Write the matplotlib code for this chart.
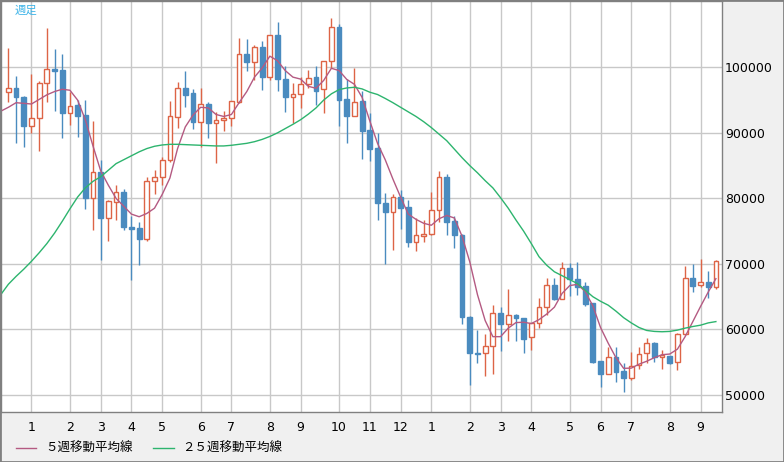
import matplotlib
matplotlib.use('Agg')
import matplotlib.pyplot as plt
import numpy as np
from matplotlib.lines import Line2D
from matplotlib.patches import Rectangle

# weekly candles
opens = [96190, 96800, 95530, 91110, 92230, 97560, 99700, 99590, 92990, 94260,
         92730, 80130, 83990, 76930, 79520, 80940, 75610, 75450, 73730, 82720,
         83230, 85820, 92480, 96800, 96040, 91720, 94360, 91460, 91920, 92230,
         94770, 101980, 100860, 103050, 98580, 104930, 98170, 95530, 95880, 97410,
         98480, 96650, 101020, 106100, 95170, 92630, 94870, 90450, 87650, 79370,
         77990, 80180, 78650, 73420, 74290, 74540, 78200, 83230, 76570, 74440,
         61890, 56460, 56360, 57530, 62460, 60780, 62210, 61700, 58800, 60940,
         63380, 66730, 64700, 69320, 67650, 66630, 63990, 55140, 53210, 55850,
         53720, 52650, 54580, 56360, 57890, 55750, 55950, 54990, 59260, 67800,
         66730, 67190, 66430]
highs = [102900, 98680, 95600, 98980, 97970, 106000, 102740, 102030, 96290, 95020,
         95020, 91820, 85870, 79770, 82060, 81400, 77330, 76470, 83330, 84350,
         86380, 94870, 97760, 99440, 96650, 96800, 94670, 93240, 93340, 94870,
         104420, 104320, 103400, 104010, 104930, 106860, 100200, 97560, 98580, 99590,
         100200, 101020, 107470, 106560, 98170, 99950, 96440, 93090, 89940, 80890,
         80690, 81300, 79770, 77080, 76720, 80940, 84190, 83740, 77330, 74500,
         62100, 59950, 59310, 63730, 63480, 66170, 62360, 61750, 60940, 64750,
         67900, 67900, 70240, 70090, 70240, 67190, 64100, 55200, 57280, 57280,
         54840, 56610, 57280, 58650, 58040, 56870, 56000, 59510, 69680, 69930,
         70750, 68970, 70600]
lows = [94770, 88520, 87910, 89940, 87300, 94770, 93390, 89180, 91210, 89430,
        78350, 75100, 70530, 73570, 76720, 75100, 67480, 69760, 73570, 80640,
        82060, 85500, 90700, 94000, 90550, 87810, 89180, 85370, 90350, 91060,
        94510, 99490, 98000, 96550, 98070, 96440, 93240, 91570, 93750, 96800,
        94260, 93090, 99850, 91060, 88520, 92630, 86080, 85770, 76720, 69970,
        72050, 75350, 72510, 71900, 73420, 74440, 76470, 74440, 72410, 60820,
        51600, 54850, 52900, 53210, 56720, 58290, 58240, 56460, 56870, 60280,
        62210, 64490, 64650, 65100, 65260, 63630, 54900, 51280, 53210, 52040,
        50510, 52290, 53920, 54840, 55090, 53920, 54730, 53820, 59160, 65770,
        66530, 64850, 66120]
closes = [96800, 95530, 91110, 92230, 97560, 99700, 99490, 92990, 94160, 92630,
          80130, 83990, 76930, 79620, 80940, 75560, 75400, 73730, 82720, 83230,
          85820, 92530, 96800, 95780, 91720, 94360, 91460, 91920, 92330, 94870,
          101980, 100860, 103050, 98580, 104930, 98170, 95530, 95880, 97410, 98430,
          96440, 101020, 106100, 95020, 92630, 94770, 90350, 87550, 79260, 77990,
          80180, 78600, 73420, 74340, 74540, 78200, 83230, 76470, 74340, 61890,
          56400, 56260, 57480, 62460, 60780, 62160, 61700, 58600, 60940, 63380,
          66730, 64700, 69320, 67650, 66530, 63880, 55090, 53160, 55850, 53560,
          52650, 54480, 56260, 57890, 55850, 56110, 54940, 59260, 67800, 66680,
          67290, 66430, 70490]

# moving averages, first value is the week before the first candle
ma5 = [93300, 93900, 94600, 94500, 94400, 95100, 95800, 96300, 96650, 96500, 95000,
       92000, 88000, 84200, 82000, 80000, 78800, 77600, 77200, 77700, 78500,
       80600, 83100, 87600, 90900, 92700, 93900, 93800, 92800, 92500, 92800,
       94600, 96300, 98500, 99900, 101700, 101000, 99500, 98500, 98200, 97100,
       96800, 98000, 99850, 99500, 98150, 97400, 95400, 91800, 88400, 85900,
       82950, 80200, 77600, 76800, 76200, 75900, 76900, 77400, 77000, 74200,
       70300, 65300, 61350, 58900, 58900, 60200, 61050, 61100, 60900, 61500,
       62350, 63400, 65500, 66700, 66880, 65800, 63600, 60300, 57900, 55700,
       54070, 54100, 54700, 55150, 55700, 56150, 56250, 57000, 58900, 61200,
       63500, 65700, 67750]
ma25 = [65300, 66900, 68100, 69200, 70400, 71700, 73100, 74700, 76500, 78400, 80200,
        81600, 82600, 83300, 84300, 85300, 85900, 86500, 87100, 87600, 87950,
        88150, 88250, 88250, 88200, 88150, 88100, 88050, 88000, 88000, 88100,
        88250, 88400, 88650, 89000, 89450, 90000, 90650, 91300, 92000, 92850,
        93800, 95000, 95950, 96600, 96850, 96950, 96700, 96200, 95850, 95250,
        94600, 93900, 93200, 92500, 91700, 90800, 89800, 88800, 87500, 86200,
        85000, 83900, 82700, 81600, 80100, 78500, 76700, 75000, 73100, 71100,
        69800, 68800, 68200, 67600, 67000, 66000, 65000, 64300, 63700, 62800,
        61800, 61000, 60300, 59850, 59700, 59650, 59700, 59900, 60200, 60450,
        60650, 61000, 61200]

month_pos = [3, 8, 12, 16, 20, 25, 29, 34, 38, 43, 47, 51, 55, 60, 64, 68, 73, 77, 81, 86, 90]
month_labels = ['1', '2', '3', '4', '5', '6', '7', '8', '9', '10', '11', '12',
                '1', '2', '3', '4', '5', '6', '7', '8', '9']
price_ticks = [50000, 60000, 70000, 80000, 90000, 100000]

RED = '#dd6446'
BLUE = '#4a8bbf'
PURPLE = '#b45a82'
GREEN = '#2db46e'
GRID = '#c8c8c8'
BORDER = '#808080'
CJK = ['Noto Sans CJK JP', 'DejaVu Sans']

W, H = 784, 462
fig = plt.figure(figsize=(W / 100, H / 100), dpi=100, facecolor='#f0f0f0')
ax = fig.add_axes([1 / W, (H - 412.3) / H, 720.5 / W, 411.3 / H])
ax.set_facecolor('white')

o = np.array(opens)
h = np.array(highs)
l = np.array(lows)
c = np.array(closes)
wk = np.arange(len(c))
up = c >= o

ax.vlines(wk[up], l[up], h[up], color=RED, lw=1, zorder=2)
ax.vlines(wk[~up], l[~up], h[~up], color=BLUE, lw=1, zorder=2)
body_lo = np.minimum(o, c)
body_h = np.maximum(np.abs(c - o), 120)
ax.bar(wk[up], body_h[up], bottom=body_lo[up], width=0.62,
       facecolor='white', edgecolor=RED, lw=1, zorder=3)
ax.bar(wk[~up], body_h[~up], bottom=body_lo[~up], width=0.62,
       facecolor=BLUE, edgecolor=BLUE, lw=1, zorder=3)

ma_x = np.arange(-1, len(c))
ax.plot(ma_x, ma5, color=PURPLE, lw=1, zorder=4)
ax.plot(ma_x, ma25, color=GREEN, lw=1, zorder=4)

ax.set_xlim(-0.962, 92.73)
ax.set_ylim(47360, 110116)
ax.set_xticks(month_pos, month_labels)
ax.set_yticks(price_ticks, [str(p) for p in price_ticks])
ax.yaxis.tick_right()
ax.grid(color=GRID, lw=1)
ax.set_axisbelow(True)
ax.tick_params(axis='x', length=0, pad=6, labelsize=9, colors='black')
ax.tick_params(axis='y', length=0, pad=2.5, labelsize=9, colors='black')
for s in ax.spines.values():
    s.set_color(BORDER)
    s.set_linewidth(1)

fig.text(15 / W, 1 - 10.5 / H, '週足', color='#3bb3e8', fontsize=8.2,
         family=CJK, ha='left', va='center')

# legend drawn by hand under the axis labels
ly = 1 - 448.3 / H
fig.add_artist(Line2D([16 / W, 36 / W], [ly, ly], color=PURPLE, lw=1))
fig.text(45 / W, ly, '５週移動平均線', fontsize=9, family=CJK, ha='left', va='center')
fig.add_artist(Line2D([153 / W, 174 / W], [ly, ly], color=GREEN, lw=1))
fig.text(182 / W, ly, '２５週移動平均線', fontsize=9, family=CJK, ha='left', va='center')

fig.add_artist(Rectangle((0, 0), 1, 1, transform=fig.transFigure, fill=False,
                         edgecolor=BORDER, lw=2))

fig.savefig('out.png', dpi=100, facecolor=fig.get_facecolor())
